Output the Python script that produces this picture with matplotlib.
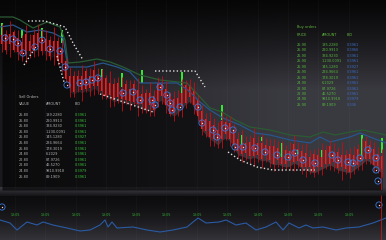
import numpy as np
import matplotlib.pyplot as plt

W, H = 386, 240

# red candles, one every 4 ticks (price index, higher = up)
mids = [147, 143, 146, 144, 140, 137, 141, 139, 142, 145,
        143, 140, 137, 139, 134, 129, 115, 103, 101, 104,
        102, 105, 103, 107, 104, 101, 98, 96, 93, 95,
        91, 93, 90, 92, 88, 86, 84, 86, 82, 93,
        95, 88, 81, 79, 82, 87, 91, 94, 87, 77,
        65, 60, 56, 53, 50, 55, 57, 54, 47, 40,
        39, 37, 36, 38, 36, 34, 35, 32, 30, 31,
        29, 28, 29, 32, 30, 26, 25, 23, 22, 24,
        26, 28, 30, 28, 25, 24, 23, 22, 25, 28,
        31, 35, 33, 28, 25, 22]
body = [6, 8, 5, 9, 7, 6, 10, 5, 8, 7,
        9, 6, 8, 5, 10, 7, 9, 6, 8, 5,
        7, 9, 6, 8, 5, 7, 9, 6, 8, 7,
        5, 8, 6, 9, 7, 5, 8, 6, 7, 9,
        6, 8, 10, 7, 5, 8, 9, 6, 7, 8,
        9, 6, 8, 7, 5, 9, 6, 8, 7, 6,
        8, 5, 7, 9, 6, 8, 5, 7, 9, 6,
        8, 7, 5, 9, 6, 8, 7, 5, 9, 6,
        8, 7, 9, 5, 8, 6, 7, 9, 5, 8,
        6, 9, 7, 8, 6, 7]
wick = [14, 12, 18, 11, 15, 13, 19, 12, 14, 16,
        13, 15, 12, 19, 14, 16, 12, 15, 13, 11,
        18, 12, 14, 17, 13, 15, 12, 18, 14, 13,
        17, 12, 15, 13, 19, 14, 12, 17, 13, 15,
        14, 16, 12, 15, 13, 19, 14, 12, 16, 13,
        15, 12, 17, 14, 13, 18, 12, 15, 14, 13,
        16, 12, 14, 19, 13, 17, 12, 14, 16, 13,
        15, 12, 14, 18, 13, 15, 17, 12, 14, 13,
        16, 12, 15, 14, 13, 19, 12, 15, 14, 13,
        16, 14, 12, 15, 13, 14]

# green candles
green_t = [2, 22, 42, 62, 102, 122, 142, 182, 222, 242, 262, 282, 298, 322, 362, 382]
green_top = [162, 156, 157, 155, 116, 112, 115, 113, 80, 50, 48, 42, 35, 35, 50, 47]
green_bot = [150, 147, 147, 142, 108, 98, 102, 92, 65, 40, 44, 28, 31, 28, 29, 32]

# blue markers
circ_t = [5, 13, 18, 23, 35, 42, 50, 60, 65, 67, 80, 86, 92, 98, 123, 133, 140, 152,
          155, 160, 167, 170, 172, 180, 198, 202, 213, 217, 225, 233, 235, 243, 255,
          265, 277, 288, 295, 303, 315, 332, 338, 348, 353, 360, 368, 376, 376, 378]
circ_p = [147, 146, 142, 132, 138, 145, 136, 134, 118, 100, 102, 103, 105, 107, 92, 93, 85, 85,
          80, 98, 90, 82, 75, 78, 78, 62, 55, 48, 57, 55, 38, 38, 37,
          33, 30, 28, 32, 25, 22, 30, 25, 23, 22, 27, 35, 27, 15, 4]

# envelope lines
green_band_t = [0, 13, 20, 33, 47, 60, 65, 68, 80, 97, 110, 123, 140, 160, 187, 200, 210,
                222, 235, 250, 270, 290, 310, 323, 335, 350, 363, 372, 386]
green_band_p = [168, 168, 165, 157, 163, 158, 145, 122, 123, 126, 123, 118, 110, 105, 102, 88, 77,
                73, 65, 58, 55, 50, 48, 53, 50, 53, 55, 53, 50]
blue_band_t = [0, 13, 27, 40, 53, 63, 68, 87, 103, 117, 130, 140, 163, 177, 188, 200, 210,
               223, 240, 255, 270, 290, 310, 320, 330, 350, 360, 370, 386]
blue_band_p = [158, 160, 153, 155, 152, 147, 118, 118, 122, 118, 113, 102, 102, 102, 95, 83, 75,
               67, 60, 52, 50, 45, 42, 48, 43, 48, 52, 48, 42]

# dotted support / resistance
dotted = [
    ([28, 45, 65, 68, 73, 83], [164, 164, 158, 152, 142, 125]),
    ([24, 35], [120, 137]),
    ([57, 64], [129, 103]),
    ([100, 153], [91, 73]),
    ([155, 195, 205], [114, 114, 98]),
    ([228, 240, 257, 273, 315], [33, 25, 18, 15, 15]),
]

# lower panel line
low_t = [0, 10, 17, 27, 37, 43, 53, 67, 80, 90, 100, 105, 108, 112, 117, 133, 147, 160,
         173, 187, 198, 206, 219, 226, 236, 246, 256, 266, 276, 283, 289, 299, 306, 313,
         323, 336, 346, 359, 373, 386]
low_v = [20, 17, 10, 18, 15, 18, 15, 12, 9, 10, 15, 20, 13, 18, 12, 13, 10, 8,
         10, 13, 22, 17, 18, 20, 15, 17, 10, 13, 18, 10, 17, 12, 15, 12,
         13, 10, 12, 13, 17, 22]
time_t = [15, 45, 76, 106, 136, 166, 197, 227, 258, 288, 318, 349]
time_labels = ['13:05'] * 12

# order tables
sell_value = ['25.80', '25.80', '25.80', '25.80', '25.80', '25.80',
              '25.80', '24.80', '22.80', '22.80', '24.80', '25.80']
sell_amount = ['189.2280', '290.9913', '334.9230', '1,230.0091', '145.1280', '234.9664',
               '178.3019', '6.2029', '87.9726', '46.5270', '9810.9918', '89.1909']
sell_bid = ['0.3961', '0.3961', '0.3961', '0.3961', '0.3927', '0.3961',
            '0.3961', '0.3961', '0.3961', '0.3961', '0.3979', '0.3961']
buy_price = ['25.90', '25.90', '25.90', '25.90', '25.90', '25.90',
             '25.90', '24.90', '22.90', '22.90', '24.90', '25.90']
buy_amount = ['185.2280', '290.9913', '334.9230', '1,230.0091', '145.1280', '234.9664',
              '178.3019', '6.2029', '87.9726', '46.5270', '9810.9918', '89.1909']
buy_bid = ['0.3961', '0.3966', '0.3961', '0.3961', '0.3927', '0.3961',
           '0.3961', '0.3961', '0.3961', '0.3961', '0.3979', '0.336']

fig = plt.figure(figsize=(W / 100, H / 100), dpi=100)

# background
ax_bg = fig.add_axes([0, 0, 1, 1])
yy, xx = np.mgrid[0:H, 0:W] + 0.5
sy = np.clip(yy / 90, 0, 1) ** 1.2
hx = 0.4 + 0.6 * np.clip(xx / 280, 0, 1)
v = 0.025 + 0.2 * sy * hx
band = (yy >= 187) & (yy < 196)
v[band] = 0.08 + 0.2 * (1 - (yy[band] - 187) / 9) * (0.6 + 0.4 * np.exp(-((xx[band] - 200) / 200) ** 2))
lower = yy >= 196
v[lower] = 0.05 + 0.15 * ((yy[lower] - 196) / 44) ** 1.5
bg = np.clip(np.dstack([v, v, v * 1.12]), 0, 1)
ax_bg.imshow(bg, extent=(0, W, H, 0), aspect='auto', interpolation='bilinear')
ax_bg.set_xlim(0, W)
ax_bg.set_ylim(H, 0)
ax_bg.axis('off')

# price panel
ax = fig.add_axes([0, 50 / H, 1, 190 / H])
ax.patch.set_alpha(0)
ax.set_xlim(0, W)
ax.set_ylim(-5, 185)
ax.axis('off')

t = np.arange(len(mids)) * 4 + 2
mids_a = np.array(mids)
body_a = np.array(body)
wick_a = np.array(wick)

ax.vlines(time_t, -5, 185, color='white', alpha=0.03, lw=0.5)
ax.fill_between(t, mids_a - 10, -5, color='black', alpha=0.6, lw=0)

# order tables, drawn above the dark fill, placed in figure pixels
px = ax_bg.transData
fs = 2.5
ax.text(19, 97, 'Sell Orders', color='#bdbdbd', fontsize=fs, va='center', transform=px)
for x, s in zip([19, 46, 75], ['VALUE', 'AMOUNT', 'BID']):
    ax.text(x, 104, s, color='#b0b0b0', fontsize=fs, va='center', transform=px)
for k in range(12):
    y = 115 + 5.6 * k
    ax.text(19, y, sell_value[k], color='#b4b4b4', fontsize=fs, va='center', transform=px)
    ax.text(46, y, sell_amount[k], color='#b4b4b4', fontsize=fs, va='center', transform=px)
    ax.text(75, y, sell_bid[k], color='#3cc03c', fontsize=fs, va='center', transform=px)

ax.text(297, 27, 'Buy orders', color='#62b83c', fontsize=fs, va='center', transform=px)
for x, s in zip([297, 322, 347], ['PRICE', 'AMOUNT', 'BID']):
    ax.text(x, 35, s, color='#62b83c', fontsize=fs, va='center', transform=px)
for k in range(12):
    y = 45 + 5.45 * k
    ax.text(297, y, buy_price[k], color='#56b83c', fontsize=fs, va='center', transform=px)
    ax.text(322, y, buy_amount[k], color='#56b83c', fontsize=fs, va='center', transform=px)
    ax.text(347, y, buy_bid[k], color='#3d6cc0', fontsize=fs, va='center', transform=px)

ax.plot(green_band_t, green_band_p, color='#2a5c33', lw=0.9)
ax.plot(blue_band_t, blue_band_p, color='#27558c', lw=0.9)

ax.vlines(t, mids_a - wick_a, mids_a + wick_a, color='#c01018', lw=0.6)
ax.bar(t, 2 * body_a, bottom=mids_a - body_a, width=2.2, color='#ff1a1a', lw=0)
ax.bar(green_t, np.array(green_top) - np.array(green_bot), bottom=green_bot,
       width=2.0, color='#33e633', lw=0)

for xs, ps in dotted:
    ax.plot(xs, ps, color='#dddddd', lw=1.0, linestyle=(0, (1, 1.6)))

ax.scatter(circ_t, circ_p, s=20, facecolors='none', edgecolors='#3a78d8', linewidths=0.6, zorder=5)
ax.scatter(circ_t, circ_p, s=1.0, color='#ffd6d6', zorder=6, lw=0)
ax.vlines([381], -5, 17, color='#c01818', lw=0.6)

# lower panel
ax2 = fig.add_axes([0, 0, 1, 45 / H])
ax2.patch.set_alpha(0)
ax2.set_xlim(0, W)
ax2.set_ylim(0, 45)
ax2.axis('off')
ax2.vlines(time_t, 0, 45, color='white', alpha=0.03, lw=0.5)
ax2.plot(low_t, low_v, color='#2a5aa4', lw=0.8)
for x, s in zip(time_t, time_labels):
    ax2.text(x, 25, s, color='#34b034', fontsize=2.3, ha='center', va='center')
ax2.vlines([381], 0, 45, color='#c01818', lw=0.6)
ax2.scatter([2, 379], [33, 35], s=20, facecolors='none', edgecolors='#3a78d8', linewidths=0.6)
ax2.scatter([2, 379], [33, 35], s=1.0, color='#ffd6d6', lw=0)

fig.savefig('out.png', dpi=100)
